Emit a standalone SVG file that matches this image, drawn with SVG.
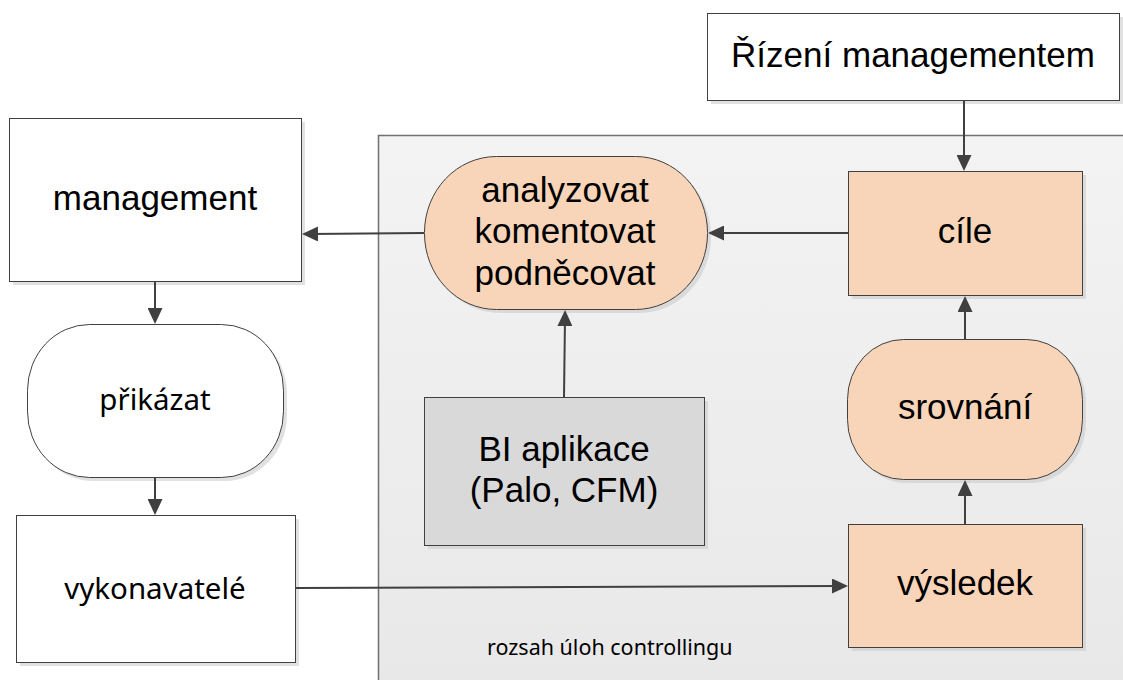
<svg xmlns="http://www.w3.org/2000/svg" width="1123" height="680" viewBox="0 0 1123 680">
  <defs>
    <linearGradient id="areaFill" x1="0" y1="0" x2="0" y2="1">
      <stop offset="0" stop-color="#f3f3f3"/>
      <stop offset="1" stop-color="#e8e8e8"/>
    </linearGradient>
    <marker id="arrow" viewBox="0 0 16 15" refX="8" refY="7.5" markerWidth="16" markerHeight="15" markerUnits="userSpaceOnUse" orient="auto">
      <path d="M0,0 L16,7.5 L0,15 Z" fill="#404040"/>
    </marker>
    <style>
      .shadow { fill: #c8c8c8; opacity: 0.55; }
      .white { fill: #ffffff; stroke: #404040; stroke-width: 1; }
      .peach { fill: #f8d5b9; stroke: #404040; stroke-width: 1; }
      .grey { fill: #d9d9d9; stroke: #404040; stroke-width: 1; }
      .label { font-family: "Liberation Sans", Arial, sans-serif; font-size: 35px; fill: #000; text-anchor: middle; }
      .label2 { font-family: "Noto Sans", "Open Sans", sans-serif; font-size: 29.5px; fill: #000; text-anchor: middle; }
      .note { font-family: "Noto Sans", "Open Sans", sans-serif; font-size: 21.5px; fill: #000; }
      .conn { stroke: #404040; stroke-width: 2; fill: none; marker-end: url(#arrow); }
    </style>
  </defs>

  <rect width="1123" height="680" fill="#ffffff"/>

  <!-- controlling scope area -->
  <g id="controlling-area">
    <rect x="378.5" y="135.5" width="760" height="560" fill="url(#areaFill)" stroke="#707070" stroke-width="1.5"/>
    <text class="note" x="487" y="655">rozsah úloh controllingu</text>
  </g>

  <g id="rizeni">
    <rect class="shadow" x="711" y="17" width="412" height="87"/>
    <rect class="white" x="707.5" y="13.5" width="412" height="87"/>
    <text class="label" x="913" y="67">Řízení managementem</text>
  </g>

  <g id="management">
    <rect class="shadow" x="13" y="122" width="292" height="163"/>
    <rect class="white" x="9.5" y="118.5" width="292" height="163"/>
    <text class="label" x="155" y="210">management</text>
  </g>

  <g id="prikazat">
    <rect class="shadow" x="31" y="328" width="256" height="153" rx="62" ry="66"/>
    <rect class="white" x="27.5" y="324.5" width="256" height="153" rx="62" ry="66"/>
    <text class="label2" x="155" y="410">přikázat</text>
  </g>

  <g id="vykonavatele">
    <rect class="shadow" x="20" y="519" width="279" height="147"/>
    <rect class="white" x="16.5" y="515.5" width="279" height="147"/>
    <text class="label2" x="155" y="599">vykonavatelé</text>
  </g>

  <g id="analyzovat">
    <rect class="shadow" x="428" y="160" width="283" height="153" rx="72" ry="76"/>
    <rect class="peach" x="424.5" y="156.5" width="283" height="153" rx="72" ry="76"/>
    <text class="label" x="565" y="202">analyzovat</text>
    <text class="label" x="565" y="243">komentovat</text>
    <text class="label" x="565" y="285">podněcovat</text>
  </g>

  <g id="bi-aplikace">
    <rect class="shadow" x="428" y="401" width="280" height="148"/>
    <rect class="grey" x="424.5" y="397.5" width="280" height="148"/>
    <text class="label" x="564" y="461">BI aplikace</text>
    <text class="label" x="564" y="502">(Palo, CFM)</text>
  </g>

  <g id="cile">
    <rect class="shadow" x="852" y="175" width="234" height="124"/>
    <rect class="peach" x="848.5" y="171.5" width="234" height="124"/>
    <text class="label" x="965" y="243">cíle</text>
  </g>

  <g id="srovnani">
    <rect class="shadow" x="851" y="343" width="235" height="140" rx="56" ry="60"/>
    <rect class="peach" x="847.5" y="339.5" width="235" height="140" rx="56" ry="60"/>
    <text class="label" x="965" y="419">srovnání</text>
  </g>

  <g id="vysledek">
    <rect class="shadow" x="852" y="528" width="234" height="123"/>
    <rect class="peach" x="848.5" y="524.5" width="234" height="123"/>
    <text class="label" x="965" y="595">výsledek</text>
  </g>

  <!-- connectors: each line stops half an arrowhead short of its target -->
  <g id="connectors">
    <line class="conn" x1="424" y1="233" x2="310" y2="234"/>
    <line class="conn" x1="155" y1="282" x2="155" y2="316"/>
    <line class="conn" x1="155" y1="478" x2="155" y2="507"/>
    <line class="conn" x1="296" y1="588" x2="840" y2="586"/>
    <line class="conn" x1="965" y1="524" x2="965" y2="488"/>
    <line class="conn" x1="965" y1="339" x2="965" y2="304"/>
    <line class="conn" x1="848" y1="233" x2="716" y2="233"/>
    <line class="conn" x1="964" y1="101" x2="964" y2="163"/>
    <line class="conn" x1="564" y1="397" x2="565" y2="318"/>
  </g>
</svg>
